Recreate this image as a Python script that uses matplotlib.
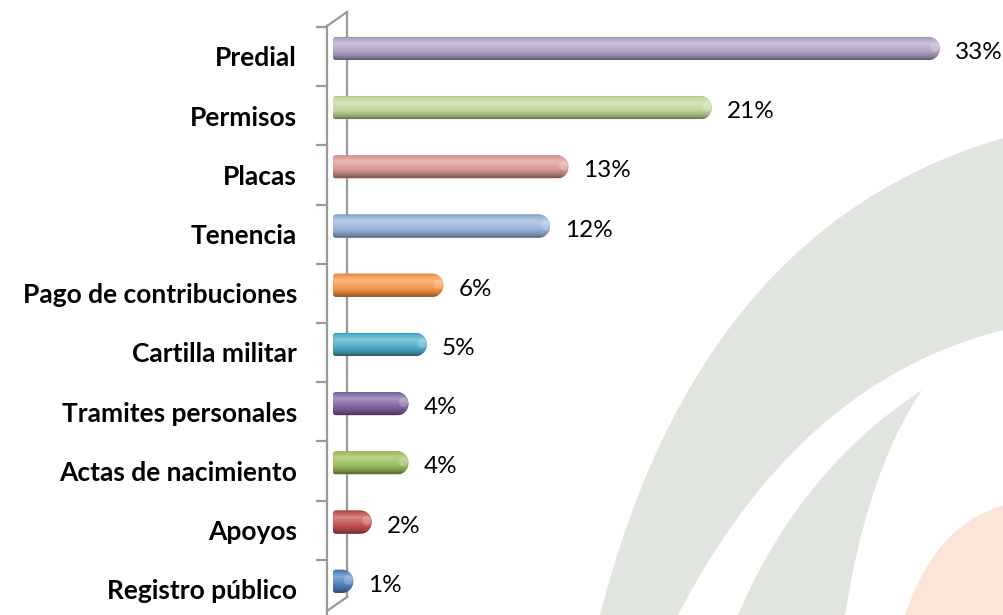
import numpy as np
import matplotlib
matplotlib.use('Agg')
import matplotlib.pyplot as plt
from matplotlib.patches import Polygon, Ellipse
from matplotlib.colors import to_rgb
from matplotlib.transforms import offset_copy

# data (top to bottom)
categories = ['Predial', 'Permisos', 'Placas', 'Tenencia', 'Pago de contribuciones',
              'Cartilla militar', 'Tramites personales', 'Actas de nacimiento',
              'Apoyos', 'Registro público']
values = [33.0, 20.6, 12.8, 11.8, 6.0, 5.1, 4.1, 4.1, 2.1, 1.1]
colors = ['#b3a2c7', '#c3d69b', '#d99694', '#95b3d7', '#f79646',
          '#4bacc6', '#8064a2', '#9bbb59', '#c0504d', '#4f81bd']

W, H = 1004, 615
fig = plt.figure(figsize=(W / 100, H / 100), dpi=100)
fig.patch.set_facecolor('white')

# background decoration, pixel coords
bg = fig.add_axes([0, 0, 1, 1], zorder=0)
bg.set_xlim(0, W)
bg.set_ylim(H, 0)
bg.axis('off')

def quad(p0, c, p1, n=40):
    t = np.linspace(0, 1, n)[:, None]
    p0, c, p1 = map(np.array, (p0, c, p1))
    return (1 - t) ** 2 * p0 + 2 * (1 - t) * t * c + t ** 2 * p1

green = '#e0e5dd'
band = np.vstack([quad((600, 615), (700, 225), (1004, 138)),
                  [(1004, 330)],
                  quad((1004, 330), (800, 380), (678, 615))])
bg.add_patch(Polygon(band, closed=True, facecolor=green, edgecolor='none'))
blade = np.vstack([quad((738, 615), (800, 470), (922, 390)),
                   quad((922, 390), (868, 470), (845, 615))])
bg.add_patch(Polygon(blade, closed=True, facecolor=green, edgecolor='none'))
blob = np.vstack([quad((1004, 505), (935, 525), (905, 615)), [(1004, 615)]])
bg.add_patch(Polygon(blob, closed=True, facecolor='#fbe4d8', edgecolor='none'))

# main axes
px_per_x = 18.39
px_per_y = 59.2
x0_px, y0_px = 333, 48.5
ax = fig.add_axes([0, 0, 1, 1], zorder=1)
ax.patch.set_alpha(0)
ax.axis('off')

def py(p):
    return (p - y0_px) / px_per_y

# 3d wall
wall = '#9a9a9a'
fx, bx = (327 - x0_px) / px_per_x, (347 - x0_px) / px_per_x
ax.plot([fx, fx], [py(26), py(640)], color=wall, lw=1.6, zorder=1)
ax.plot([bx, bx], [py(12), py(597)], color=wall, lw=1.6, zorder=1)
ax.plot([fx, bx], [py(26), py(12)], color=wall, lw=1.6, zorder=1)
ax.plot([fx, bx], [py(611), py(597)], color=wall, lw=1.6, zorder=1)
for k in range(len(categories) + 1):
    yt = py(27) + k
    ax.plot([fx - 10 / px_per_x, fx], [yt, yt], color=wall, lw=1.6, zorder=1)

# cylinder bars
h = 0.39
cap = 11 / px_per_x
corner = 3 / px_per_x
prof_t = [0, 0.08, 0.3, 0.6, 0.85, 1.0]
prof_v = [-0.25, 0.0, 0.32, 0.05, -0.2, -0.45]

def shade(c, f):
    c = np.array(to_rgb(c))
    if f >= 0:
        return c + (1 - c) * f
    return c * (1 + f)

tt = np.linspace(0, 1, 60)
for i, (v, c) in enumerate(zip(values, colors)):
    yc = i
    top, bot = yc - h / 2, yc + h / 2
    a = np.linspace(-np.pi / 2, np.pi / 2, 30)
    b = np.linspace(np.pi / 2, np.pi, 8)
    lb = np.column_stack([corner + corner * np.cos(b), bot - h / 8 + h / 8 * np.sin(b)])
    b2 = np.linspace(np.pi, 1.5 * np.pi, 8)
    lt = np.column_stack([corner + corner * np.cos(b2), top + h / 8 + h / 8 * np.sin(b2)])
    rc = np.column_stack([v - cap + cap * np.cos(a), yc + h / 2 * np.sin(a)])
    outline = np.vstack([lt, rc, lb])
    poly = Polygon(outline, closed=True, facecolor=c, edgecolor='none', zorder=3)
    ax.add_patch(poly)
    f = np.interp(tt, prof_t, prof_v)
    grad = np.array([shade(c, fv) for fv in f])[:, None, :]
    grad = np.repeat(grad, 2, axis=1)
    im = ax.imshow(grad, extent=(0, v, bot, top), aspect='auto', zorder=4,
                   interpolation='bilinear')
    im.set_clip_path(poly)
    ax.add_patch(Ellipse((v - cap * 0.45, yc - h * 0.05), cap * 0.8, h * 0.4,
                         facecolor='white', alpha=0.22, edgecolor='none', zorder=5))
    ax.text(v, yc, f'{v:.0f}%', fontsize=17.5, family='Lato', ha='left', va='center',
            color='black',
            transform=offset_copy(ax.transData, fig=fig, x=15, y=-4, units='dots'))
    ax.text(0, yc, categories[i], fontsize=19, family='Lato', fontweight='bold',
            ha='right', va='center', color='black',
            transform=offset_copy(ax.transData, fig=fig, x=-36, y=-10, units='dots'))

ax.set_xlim(-x0_px / px_per_x, (W - x0_px) / px_per_x)
ax.set_ylim((H - y0_px) / px_per_y, -y0_px / px_per_y)

fig.savefig('out.png', dpi=100, facecolor='white')
